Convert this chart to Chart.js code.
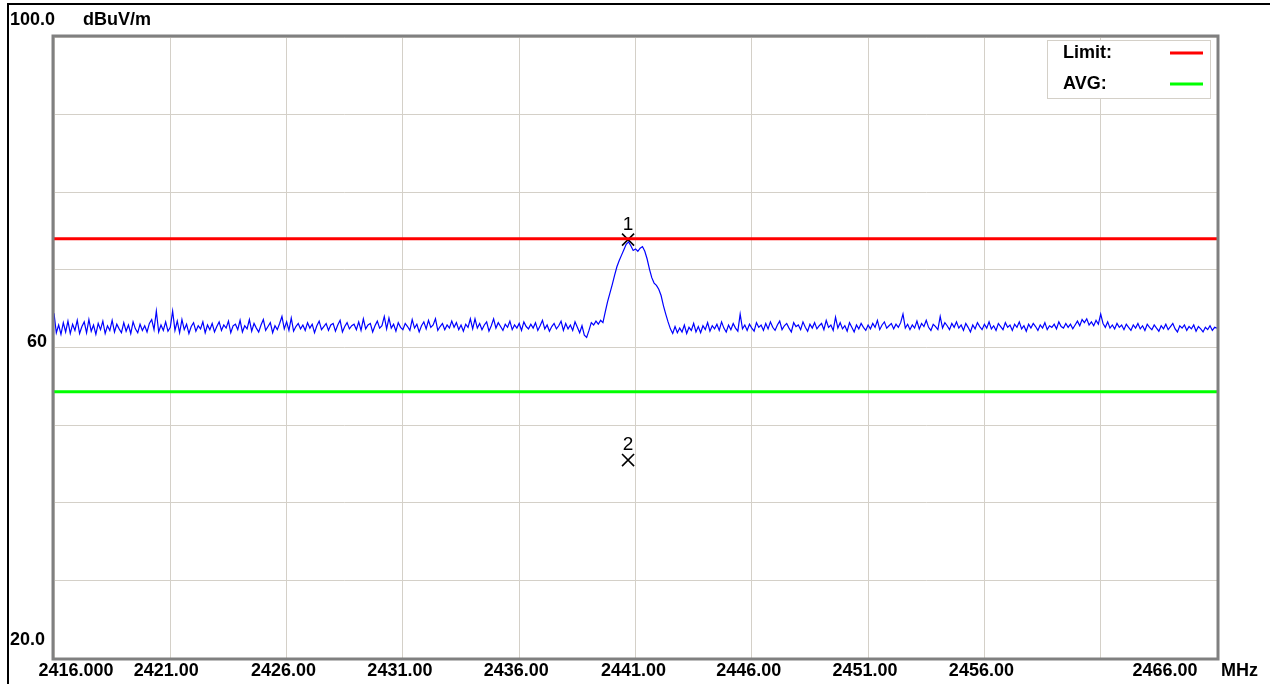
<!DOCTYPE html>
<html>
<head>
<meta charset="utf-8">
<script src="https://cdn.jsdelivr.net/npm/chart.js@4.4.1/dist/chart.umd.min.js"></script>
<style>
    body { margin: 0; background: #ffffff; }
    #wrap { width: 1270px; height: 684px; position: relative; }
</style>
</head>
<body>
<div id="wrap"><canvas id="chart"></canvas></div>
<script>
// sweep: 2416 - 2466 MHz, one reading every 0.1 MHz (one row = 1 MHz)
const freqStart = 2416;
const freqStep = 0.1;
const trace = [
    64.4, 61.9, 62.9, 61.7, 63.2, 62.0, 63.4, 61.8, 63.0, 62.2,
    63.5, 61.8, 62.7, 63.3, 61.9, 63.6, 62.1, 62.9, 61.7, 63.1,
    62.3, 63.4, 61.8, 62.8, 62.2, 63.5, 62.0, 63.0, 62.4, 61.9,
    63.2, 62.1, 62.9, 61.8, 63.3, 62.4, 61.9, 63.0, 62.2, 62.8,
    62.0, 63.1, 63.6, 62.3, 64.7, 62.0, 62.9, 62.2, 63.3, 62.1,
    62.6, 64.7, 62.2, 63.4, 61.9, 63.6, 62.3, 63.0, 61.8, 62.7,
    63.2, 62.1, 62.8, 62.4, 63.3, 61.9, 62.9, 62.3, 63.1, 62.0,
    62.7, 63.3, 62.2, 62.9, 62.5, 63.4, 61.9, 62.8, 63.0, 62.3,
    63.5, 62.0, 62.8, 62.4, 63.6, 62.1, 63.1, 62.5, 62.0, 62.9,
    63.6, 62.2, 62.7, 63.2, 61.9, 62.8, 62.3, 63.1, 64.0, 62.4,
    63.3, 62.2, 63.8, 62.1, 62.7, 63.1, 62.4, 62.9, 62.2, 63.2,
    62.5, 63.0, 61.9, 62.8, 63.4, 62.3, 62.7, 63.1, 62.2, 62.9,
    63.1, 62.1, 62.9, 63.5, 62.0, 62.7, 63.2, 62.4, 62.8, 63.0,
    62.3, 63.3, 62.2, 63.7, 62.4, 62.9, 63.1, 62.0, 62.8, 63.4,
    62.5, 62.8, 64.0, 62.4, 63.8, 62.5, 63.0, 62.1, 63.2, 62.6,
    62.3, 63.1, 62.7, 62.2, 63.6, 62.5, 63.0, 62.0, 62.8, 63.3,
    62.4, 63.5, 62.6, 62.9, 63.7, 62.2, 62.7, 63.1, 62.3, 62.9,
    62.5, 63.4, 62.6, 63.2, 62.3, 62.9, 62.1, 63.0, 62.6, 63.7,
    62.4, 63.7, 62.5, 63.1, 62.3, 62.9, 63.3, 62.1, 62.8, 63.7,
    62.5, 63.2, 62.7, 62.2, 63.0, 62.6, 63.4, 62.3, 62.9, 62.5,
    63.1, 62.2, 63.3, 62.7, 62.4, 63.0, 62.5, 63.2, 62.2, 62.8,
    63.5, 62.4, 62.9, 62.1, 62.7, 63.1, 62.4, 62.8, 63.4, 62.2,
    63.1, 62.4, 62.9, 62.2, 63.3, 62.6, 61.9, 62.8, 61.6, 61.3,
    62.2, 63.2, 62.9, 63.4, 63.0, 63.5, 63.2, 64.6, 65.9, 67.0,
    68.1, 69.3, 70.4, 71.2, 71.9, 72.6, 73.3, 73.6, 73.1, 72.5,
    72.7, 72.4, 72.8, 73.0, 72.4, 71.4, 70.1, 69.0, 68.3, 68.0,
    67.5, 66.7, 65.4, 64.3, 63.3, 62.4, 61.8, 62.7, 61.9, 62.5,
    62.0, 62.9, 61.8, 62.6, 62.2, 63.1, 62.0, 62.7, 61.9, 62.8,
    62.3, 63.2, 62.1, 62.8, 62.4, 63.0, 62.2, 63.3, 62.5, 62.0,
    62.9, 62.3, 63.1, 62.5, 62.1, 64.3, 62.4, 62.9, 62.2, 63.0,
    62.5, 62.1, 63.2, 62.6, 62.9, 62.2, 63.1, 62.4, 63.3, 62.6,
    62.2, 62.9, 63.4, 62.3, 62.8, 63.1, 62.5, 62.0, 63.2, 62.7,
    62.9, 62.3, 63.3, 62.6, 62.1, 63.0, 62.5, 63.2, 62.4, 62.8,
    63.1, 62.3, 63.5, 62.6, 62.9, 62.2, 63.9, 62.5, 63.2, 62.4,
    62.8, 62.1, 63.2, 62.6, 62.0, 62.9, 62.4, 63.1, 62.6, 62.2,
    62.9, 62.4, 63.1, 62.6, 63.5, 62.3, 62.9, 63.3, 62.5, 62.8,
    63.1, 62.4, 63.0, 62.6, 63.2, 64.3, 62.5, 63.0, 62.3, 62.9,
    62.5, 63.4, 62.4, 63.1, 62.7, 63.5, 62.6, 62.2, 63.0, 62.7,
    62.3, 64.0, 62.5, 63.2, 62.8, 62.3, 63.1, 62.6, 63.3, 62.5,
    62.9, 62.2, 63.1, 62.6, 62.0, 62.9, 62.4, 63.2, 62.7, 62.3,
    63.0, 62.5, 63.3, 62.4, 62.8, 62.2, 63.1, 62.7, 62.3, 63.2,
    62.6, 62.9, 62.2, 63.0, 62.6, 63.3, 62.4, 62.8, 62.1, 63.0,
    62.5, 63.1, 62.7, 62.2, 62.9, 62.5, 63.2, 62.3, 62.8, 62.6,
    63.0, 62.4, 63.3, 62.7, 62.5, 63.1, 62.6, 63.0, 62.4, 62.9,
    63.4, 62.8, 63.6, 63.2, 63.7, 62.9, 63.3, 62.8, 63.5, 63.0,
    64.3, 63.1, 62.6, 63.3, 62.5, 62.9, 62.4, 63.1, 62.6, 62.9,
    62.3, 63.0, 62.6, 62.2, 62.9, 62.5, 63.1, 62.4, 62.8, 62.2,
    63.0, 62.6, 62.3, 62.9, 62.5, 62.1, 62.8, 62.4, 63.0, 62.3,
    62.7, 63.1, 62.4, 62.0, 62.8, 62.5, 62.9, 62.2, 62.7, 62.4,
    62.9, 62.1, 62.7, 62.4, 62.0, 62.6, 62.3, 62.8, 62.2, 62.6,
    62.5
];

const limitLevel = 74;
const avgLevel = 54.3;

const markerNames = ['1', '2'];
const markerFreqs = [2440.68, 2440.68];
const markerLevels = [73.9, 45.5];

const xTickValues = [2416, 2421, 2426, 2431, 2436, 2441, 2446, 2451, 2456, 2466];
const xTickLabels = ['2416.000', '2421.00', '2426.00', '2431.00', '2436.00', '2441.00', '2446.00', '2451.00', '2456.00', '2466.00'];
const yTickValues = [100, 60, 20];
const yTickLabels = ['100.0', '60', '20.0'];
const yUnit = 'dBuV/m';
const xUnit = 'MHz';
const legendNames = ['Limit:', 'AVG:'];

const FONT = 'bold 18px "Liberation Sans", Arial, sans-serif';
const MARK_FONT = '19px "Liberation Sans", Arial, sans-serif';

const tracePoints = trace.map((v, i) => ({ x: freqStart + i * freqStep, y: v }));
const freqEnd = freqStart + (trace.length - 1) * freqStep;

const decorations = {
    id: 'decorations',
    beforeDraw(chart) {
        const ctx = chart.ctx;
        ctx.save();
        ctx.fillStyle = '#ffffff';
        ctx.fillRect(0, 0, chart.width, chart.height);
        ctx.restore();
    },
    afterDraw(chart) {
        const ctx = chart.ctx;
        const area = chart.chartArea;
        const xs = chart.scales.x;
        const ys = chart.scales.y;
        ctx.save();

        // outer black frame
        ctx.strokeStyle = '#000000';
        ctx.lineWidth = 2;
        ctx.beginPath();
        ctx.moveTo(8, chart.height);
        ctx.lineTo(8, 4);
        ctx.lineTo(chart.width, 4);
        ctx.stroke();

        // grey plot frame
        ctx.strokeStyle = '#808080';
        ctx.lineWidth = 3;
        ctx.strokeRect(area.left - 1, area.top - 1, area.right - area.left + 2, area.bottom - area.top + 2);

        ctx.fillStyle = '#000000';
        ctx.font = FONT;
        ctx.textBaseline = 'middle';

        // y labels
        yTickValues.forEach((v, i) => {
            const py = ys.getPixelForValue(v);
            if (i === 0) {
                ctx.textAlign = 'left';
                ctx.fillText(yTickLabels[i], 10, py - 17);
            } else if (i === yTickValues.length - 1) {
                ctx.textAlign = 'left';
                ctx.fillText(yTickLabels[i], 10, py - 18);
            } else {
                ctx.textAlign = 'right';
                ctx.fillText(yTickLabels[i], area.left - 7, py - 5);
            }
        });
        ctx.textAlign = 'left';
        ctx.fillText(yUnit, 83, ys.getPixelForValue(100) - 17);

        // x labels, roughly centred on their grid lines
        const shift = [22, -4, -3, -3, -3, -2, -3, -3, -3, -52];
        const ly = area.bottom + 13;
        ctx.textAlign = 'center';
        xTickValues.forEach((v, i) => {
            ctx.fillText(xTickLabels[i], xs.getPixelForValue(v) + shift[i], ly);
        });
        ctx.textAlign = 'left';
        ctx.fillText(xUnit, area.right + 4, ly);

        // marker numbers
        ctx.font = MARK_FONT;
        ctx.textAlign = 'center';
        markerNames.forEach((n, i) => {
            ctx.fillText(n, xs.getPixelForValue(markerFreqs[i]), ys.getPixelForValue(markerLevels[i]) - 15);
        });

        // legend box
        ctx.font = FONT;
        const bx = area.right - 170, by = area.top + 3;
        ctx.fillStyle = '#ffffff';
        ctx.fillRect(bx, by, 163, 58);
        ctx.strokeStyle = '#d4d0c8';
        ctx.lineWidth = 1;
        ctx.strokeRect(bx + 0.5, by + 0.5, 163, 58);
        const legendColors = [chart.data.datasets[1].borderColor, chart.data.datasets[2].borderColor];
        legendNames.forEach((n, i) => {
            const y = by + 13 + i * 31;
            ctx.fillStyle = '#000000';
            ctx.textAlign = 'left';
            ctx.fillText(n, bx + 16, y);
            ctx.strokeStyle = legendColors[i];
            ctx.lineWidth = 3;
            ctx.beginPath();
            ctx.moveTo(bx + 123, y);
            ctx.lineTo(bx + 156, y);
            ctx.stroke();
        });
        ctx.restore();
    }
};

new Chart(document.getElementById('chart'), {
    type: 'line',
    data: {
        datasets: [{
            label: 'Trace',
            data: tracePoints,
            borderColor: '#0000ff',
            borderWidth: 1.2,
            pointRadius: 0,
            tension: 0
        }, {
            label: 'Limit',
            data: [{ x: freqStart, y: limitLevel }, { x: freqEnd, y: limitLevel }],
            borderColor: '#ff0000',
            borderWidth: 3,
            pointRadius: 0
        }, {
            label: 'AVG',
            data: [{ x: freqStart, y: avgLevel }, { x: freqEnd, y: avgLevel }],
            borderColor: '#00ff00',
            borderWidth: 3,
            pointRadius: 0
        }, {
            label: 'Markers',
            type: 'scatter',
            data: markerFreqs.map((f, i) => ({ x: f, y: markerLevels[i] })),
            pointStyle: 'crossRot',
            pointRadius: 8.5,
            borderColor: '#000000',
            borderWidth: 1.6,
            showLine: false
        }]
    },
    options: {
        responsive: true,
        maintainAspectRatio: false,
        animation: false,
        layout: { padding: { left: 54, top: 37, right: 53, bottom: 26 } },
        scales: {
            x: {
                type: 'linear',
                min: 2416,
                max: 2466,
                ticks: { display: false, stepSize: 5 },
                grid: { color: '#d4d0c8', lineWidth: 1, drawTicks: false },
                border: { display: false }
            },
            y: {
                min: 20,
                max: 100,
                ticks: { display: false, stepSize: 10 },
                grid: { color: '#d4d0c8', lineWidth: 1, drawTicks: false },
                border: { display: false }
            }
        },
        plugins: {
            legend: { display: false },
            tooltip: { enabled: false }
        }
    },
    plugins: [decorations]
});
</script>
</body>
</html>
